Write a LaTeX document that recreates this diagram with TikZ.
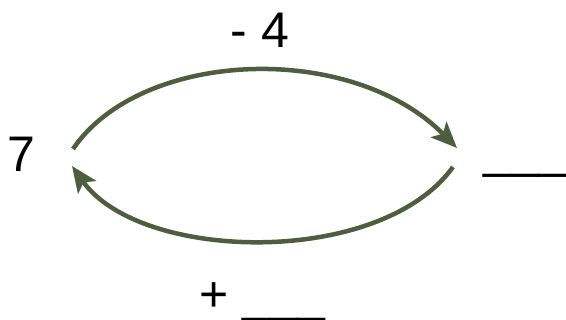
\documentclass[tikz,border=0pt]{standalone}
\usepackage{fontspec}
\setmainfont{Liberation Sans}
\usetikzlibrary{arrows.meta}
\definecolor{arcgreen}{RGB}{79,93,63}
\begin{document}
\begin{tikzpicture}[x=1pt,y=-1pt,
  lbl/.style={inner sep=0pt,anchor=base,font=\fontsize{50}{60}\selectfont},
  arc/.style={draw=arcgreen,line width=4.5pt,-{Stealth[length=26pt,width=22pt,inset=6pt]}}]
\useasboundingbox (0,0) rectangle (566,320);
\node[lbl] (seven) at (21,172) {7};
\node[lbl] (minus) at (260,48) {- 4};
\node[lbl] (blank) at (525,168) {\_\_\_};
\node[lbl,anchor=base west] (plus) at (199,312) {+ \_\_\_};
\coordinate (a1) at (73,149);
\coordinate (a2) at (457,148);
\coordinate (b1) at (453,167);
\coordinate (b2) at (72,166);
\draw[arc] (a1) .. controls (140,50) and (350,40) .. (a2);
\draw[arc] (b1) .. controls (380,268) and (140,262) .. (b2);
\end{tikzpicture}
\end{document}
